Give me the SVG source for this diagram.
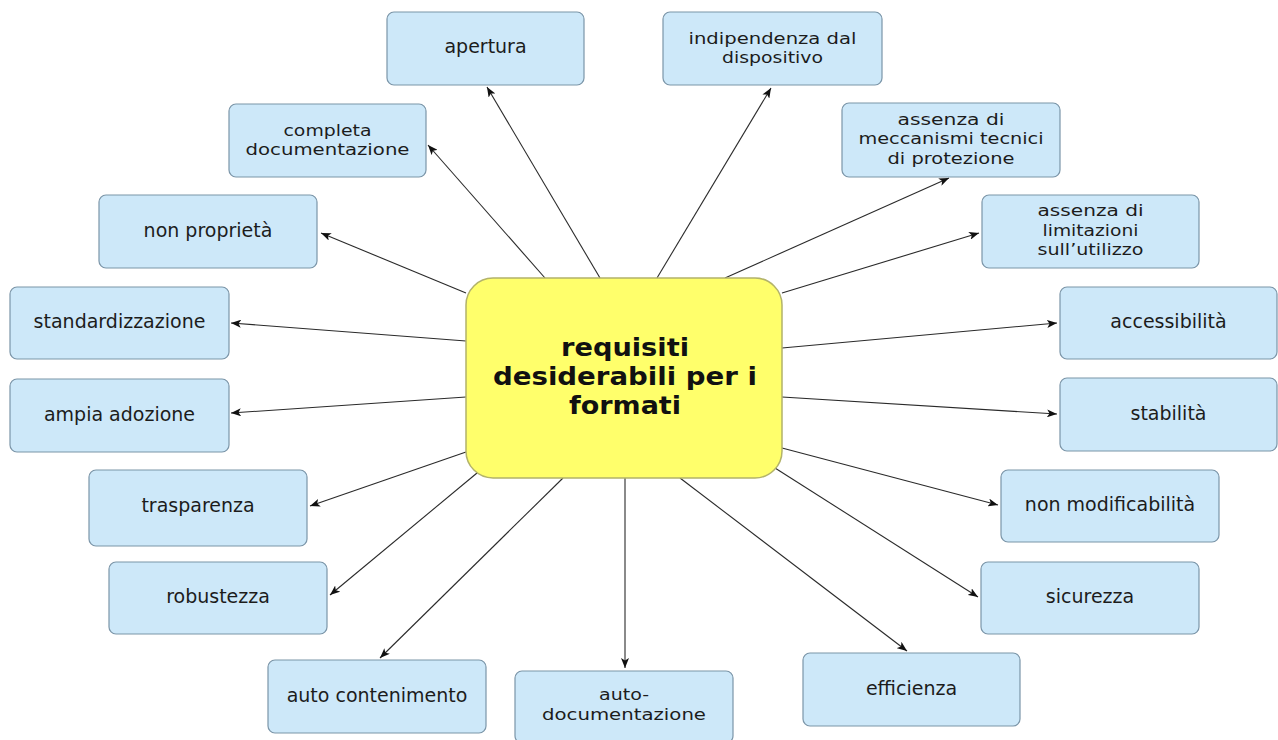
<svg xmlns="http://www.w3.org/2000/svg" width="1278" height="740" viewBox="0 0 1278 740">
<style>
.box{fill:#cde8f9;stroke:#7b95a8;stroke-width:1.2}
.lbl{font-family:"DejaVu Sans","Liberation Sans",sans-serif;font-size:19px;fill:#1c1c1c;text-anchor:middle}
.ml{font-size:16.5px}
.ttl{font-family:"DejaVu Sans","Liberation Sans",sans-serif;font-size:24.5px;font-weight:bold;fill:#111;text-anchor:middle}
.con line{stroke:#2a2a2a;stroke-width:1.1;marker-end:url(#ah)}
</style>
<defs>
<marker id="ah" markerUnits="userSpaceOnUse" markerWidth="10" markerHeight="8" refX="10" refY="4" orient="auto">
<path d="M0,0 L10,4 L0,8 L2.5,4 Z" fill="#111"/>
</marker>
</defs>
<rect width="1278" height="740" fill="#fff"/>
<g id="connectors" class="con">
<line x1="600" y1="278" x2="487" y2="87"/>
<line x1="545" y1="278" x2="428" y2="145"/>
<line x1="466" y1="293" x2="321" y2="233"/>
<line x1="466" y1="341" x2="231" y2="323"/>
<line x1="466" y1="397" x2="231" y2="413"/>
<line x1="466" y1="452" x2="310" y2="506"/>
<line x1="477" y1="473" x2="330" y2="595"/>
<line x1="563" y1="478" x2="380" y2="658"/>
<line x1="625" y1="478" x2="625" y2="668"/>
<line x1="680" y1="478" x2="907" y2="651"/>
<line x1="775" y1="468" x2="978" y2="597"/>
<line x1="782" y1="448" x2="998" y2="505"/>
<line x1="782" y1="397" x2="1057" y2="414"/>
<line x1="782" y1="348" x2="1057" y2="323"/>
<line x1="782" y1="293" x2="979" y2="233"/>
<line x1="725" y1="278" x2="949" y2="178"/>
<line x1="657" y1="278" x2="771" y2="88"/>
</g>
<g id="center">
<rect x="466" y="278" width="316" height="200" rx="27" fill="#ffff6b" stroke="#b3b36a" stroke-width="1.5"/>
<text class="ttl" x="625" y="356" textLength="128" lengthAdjust="spacingAndGlyphs">requisiti</text>
<text class="ttl" x="625" y="385" textLength="264" lengthAdjust="spacingAndGlyphs">desiderabili per i</text>
<text class="ttl" x="625" y="414" textLength="112" lengthAdjust="spacingAndGlyphs">formati</text>
</g>
<g id="apertura"><rect class="box" x="387" y="12" width="197" height="73" rx="7"/><text class="lbl" x="485.5" y="53">apertura</text></g>
<g id="indipendenza"><rect class="box" x="663" y="12" width="219" height="73" rx="7"/><text class="lbl ml" x="772.5" y="43.5" textLength="168" lengthAdjust="spacingAndGlyphs">indipendenza dal</text><text class="lbl ml" x="772.5" y="63" textLength="101" lengthAdjust="spacingAndGlyphs">dispositivo</text></g>
<g id="meccanismi"><rect class="box" x="842" y="103" width="218" height="74" rx="7"/><text class="lbl ml" x="951" y="124.5" textLength="107" lengthAdjust="spacingAndGlyphs">assenza di</text><text class="lbl ml" x="951" y="144" textLength="185" lengthAdjust="spacingAndGlyphs">meccanismi tecnici</text><text class="lbl ml" x="951" y="163.5" textLength="127" lengthAdjust="spacingAndGlyphs">di protezione</text></g>
<g id="limitazioni"><rect class="box" x="982" y="195" width="217" height="73" rx="7"/><text class="lbl ml" x="1090.5" y="216" textLength="106" lengthAdjust="spacingAndGlyphs">assenza di</text><text class="lbl ml" x="1090.5" y="235.5" textLength="96" lengthAdjust="spacingAndGlyphs">limitazioni</text><text class="lbl ml" x="1090.5" y="255" textLength="106" lengthAdjust="spacingAndGlyphs">sull’utilizzo</text></g>
<g id="accessibilita"><rect class="box" x="1060" y="287" width="217" height="72" rx="7"/><text class="lbl" x="1168.5" y="328">accessibilità</text></g>
<g id="stabilita"><rect class="box" x="1060" y="378" width="217" height="73" rx="7"/><text class="lbl" x="1168.5" y="420">stabilità</text></g>
<g id="nonmodificabilita"><rect class="box" x="1001" y="470" width="218" height="72" rx="7"/><text class="lbl" x="1110" y="511">non modificabilità</text></g>
<g id="sicurezza"><rect class="box" x="981" y="562" width="218" height="72" rx="7"/><text class="lbl" x="1090" y="603">sicurezza</text></g>
<g id="efficienza"><rect class="box" x="803" y="653" width="217" height="73" rx="7"/><text class="lbl" x="911.5" y="695">efficienza</text></g>
<g id="autodocumentazione"><rect class="box" x="515" y="671" width="218" height="72" rx="7"/><text class="lbl ml" x="624" y="700" textLength="50" lengthAdjust="spacingAndGlyphs">auto-</text><text class="lbl ml" x="624" y="719.5" textLength="164" lengthAdjust="spacingAndGlyphs">documentazione</text></g>
<g id="autocontenimento"><rect class="box" x="268" y="660" width="218" height="73" rx="7"/><text class="lbl" x="377" y="702">auto contenimento</text></g>
<g id="robustezza"><rect class="box" x="109" y="562" width="218" height="72" rx="7"/><text class="lbl" x="218" y="603">robustezza</text></g>
<g id="trasparenza"><rect class="box" x="89" y="470" width="218" height="76" rx="7"/><text class="lbl" x="198" y="512">trasparenza</text></g>
<g id="ampiaadozione"><rect class="box" x="10" y="379" width="219" height="73" rx="7"/><text class="lbl" x="119.5" y="421">ampia adozione</text></g>
<g id="standardizzazione"><rect class="box" x="10" y="287" width="219" height="72" rx="7"/><text class="lbl" x="119.5" y="328">standardizzazione</text></g>
<g id="nonproprieta"><rect class="box" x="99" y="195" width="218" height="73" rx="7"/><text class="lbl" x="208" y="237">non proprietà</text></g>
<g id="completa"><rect class="box" x="229" y="104" width="197" height="73" rx="7"/><text class="lbl ml" x="327.5" y="135.5" textLength="88" lengthAdjust="spacingAndGlyphs">completa</text><text class="lbl ml" x="327.5" y="155" textLength="164" lengthAdjust="spacingAndGlyphs">documentazione</text></g>
</svg>
